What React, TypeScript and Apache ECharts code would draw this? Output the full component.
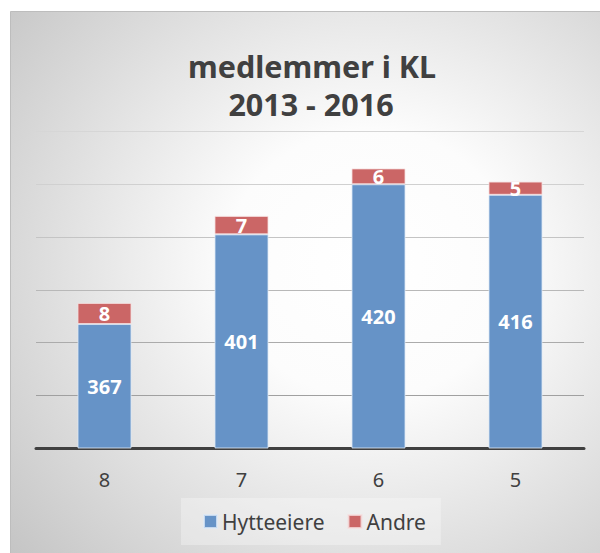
import React, { useEffect, useRef } from "react";
import * as echarts from "echarts";

const categories = ["8", "7", "6", "5"];
const hytteeiere = [367, 401, 420, 416];
const andre = [8, 7, 6, 5];
const titleLines = ["medlemmer i KL", "2013 - 2016"];

export default function App() {
  const ref = useRef<HTMLDivElement>(null);
  useEffect(() => {
    if (!ref.current) return;
    const chart = echarts.init(ref.current, null, { renderer: "svg" });
    const font = "'Noto Sans', 'Open Sans', sans-serif";
    chart.setOption({
      animation: false,
      graphic: [
        {
          type: "rect",
          z: -10,
          silent: true,
          shape: { x: 10.5, y: 11.5, width: 600, height: 560 },
          style: {
            fill: new echarts.graphic.RadialGradient(0.6, 0.45, 0.8, [
              { offset: 0, color: "#ffffff" },
              { offset: 0.3, color: "#fcfcfc" },
              { offset: 1, color: "#c4c4c4" },
            ]),
            stroke: "#bdbdbd",
            lineWidth: 1,
          },
        },
        {
          type: "text",
          x: 312,
          y: 66,
          style: {
            text: titleLines[0],
            fontFamily: font,
            fontSize: 30.5,
            fontWeight: "bold",
            fill: "#404040",
            align: "center",
            verticalAlign: "middle",
          },
        },
        {
          type: "text",
          x: 311,
          y: 104,
          style: {
            text: titleLines[1],
            fontFamily: font,
            fontSize: 30.5,
            fontWeight: "bold",
            fill: "#404040",
            align: "center",
            verticalAlign: "middle",
          },
        },
      ],
      legend: {
        left: 181,
        top: 498,
        padding: [13, 15, 13, 22],
        backgroundColor: "rgba(255,255,255,0.3)",
        itemGap: 23,
        itemWidth: 13,
        itemHeight: 13,
        icon: "rect",
        textStyle: { fontFamily: font, fontSize: 21, color: "#404040" },
        data: ["Hytteeiere", "Andre"],
      },
      grid: { left: 36, right: 16, top: 131.5, bottom: 105, containLabel: false },
      xAxis: {
        type: "category",
        data: categories,
        axisLine: { lineStyle: { color: "#404040", width: 3 } },
        axisTick: { show: false },
        axisLabel: { margin: 21, fontFamily: font, fontSize: 20, color: "#404040" },
      },
      yAxis: {
        type: "value",
        min: 320,
        max: 440,
        interval: 20,
        axisLabel: { show: false },
        axisLine: { show: false },
        axisTick: { show: false },
        splitLine: {
          lineStyle: {
            color: ["#a0a0a0", "#a0a0a0", "#ababab", "#b8b8b8", "#c4c4c4", "#d0d0d0", "#d6d6d6"],
            width: 1,
          },
        },
      },
      series: [
        {
          name: "Hytteeiere",
          type: "bar",
          stack: "total",
          barWidth: 54,
          data: hytteeiere,
          itemStyle: { color: "#6693c7", borderColor: "rgba(220,232,246,0.8)", borderWidth: 1 },
          label: {
            show: true,
            position: "inside",
            color: "#ffffff",
            fontFamily: font,
            fontSize: 20,
            fontWeight: "bold",
          },
        },
        {
          name: "Andre",
          type: "bar",
          stack: "total",
          barWidth: 54,
          data: andre,
          itemStyle: { color: "#cb6666", borderColor: "rgba(246,222,222,0.8)", borderWidth: 1 },
          label: {
            show: true,
            position: "inside",
            color: "#ffffff",
            fontFamily: font,
            fontSize: 20,
            fontWeight: "bold",
          },
        },
      ],
    });
    return () => chart.dispose();
  }, []);
  return (
    <div
      ref={ref}
      style={{ position: "absolute", left: 0, top: 0, width: 600, height: 553 }}
    />
  );
}
